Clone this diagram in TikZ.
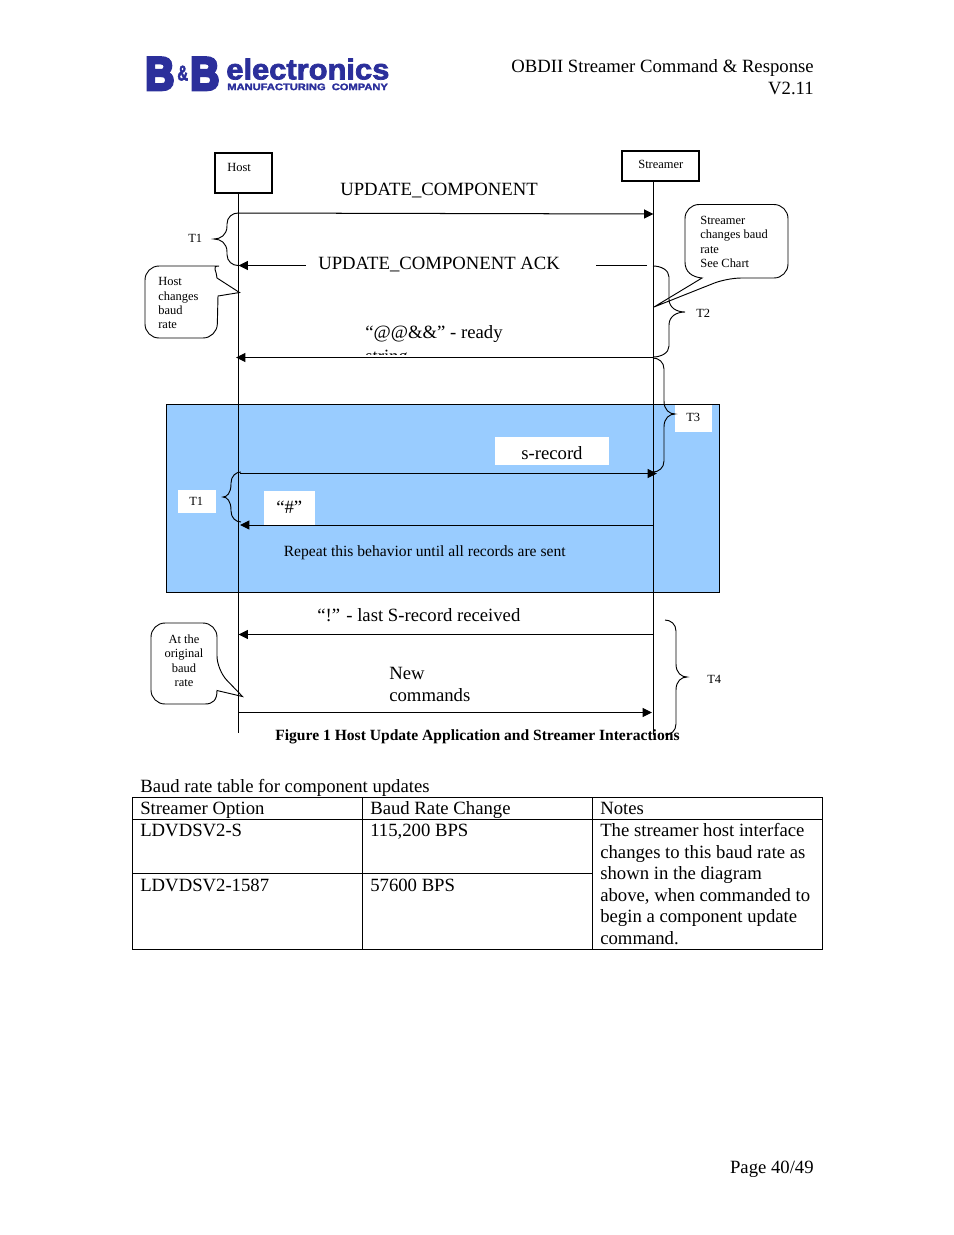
\documentclass[tikz,border=0pt]{standalone}
\usepackage{fontspec}
\setmainfont{Liberation Serif}
\newfontfamily\logofont[BoldFeatures={FakeBold=2.5}]{Liberation Sans}
\newfontfamily\logoblock[BoldFeatures={FakeBold=7}]{Liberation Sans}
\usetikzlibrary{arrows.meta}
\definecolor{loopblue}{HTML}{99CCFF}
\definecolor{logoblue}{HTML}{2B2F9B}
% brace: end x, spine x, tip x, top y, tip y, bottom y
\newcommand{\curlybrace}[6]{%
  \draw[bracelink] (#1,#4) .. controls ({(#1+#2)/2},#4) and (#2,#4+4) .. (#2,#4+11) -- (#2,#5-13)
    .. controls (#2,#5-4) and ({(#2+#3)/2},#5) .. (#3,#5) .. controls ({(#2+#3)/2},#5) and (#2,#5+4) .. (#2,#5+13)
    -- (#2,#6-11) .. controls (#2,#6-4) and ({(#1+#2)/2},#6) .. (#1,#6);}
\tikzset{
  txt/.style={anchor=base west,inner sep=0pt,font=\fontsize{12}{14}\selectfont},
  small/.style={anchor=base west,inner sep=0pt,font=\fontsize{8}{9}\selectfont},
  midtxt/.style={anchor=base west,inner sep=0pt,font=\fontsize{10}{12}\selectfont},
  endtxt/.style={anchor=base east,inner sep=0pt,font=\fontsize{12}{14}\selectfont},
  actor/.style={draw,line width=0.9pt,anchor=north west,inner sep=0pt,outer sep=0pt},
  patch/.style={fill=white,anchor=north west,inner sep=0pt,outer sep=0pt},
  lifeline/.style={line width=0.65pt},
  msg/.style={line width=0.65pt,-{Triangle[length=6pt,width=5.8pt]}},
  bracelink/.style={line width=0.6pt},
  callout/.style={line width=0.6pt,line join=miter},
  grid/.style={line width=0.5pt},
  logotxt/.style={anchor=south west,inner sep=0pt,text=logoblue}
}
\begin{document}
\begin{tikzpicture}[x=0.6415pt,y=-0.6415pt]
\useasboundingbox (0,0) rectangle (954,1235);
% logo and page header
\node[logotxt] (logob1) at (145,90) {\resizebox{18.6pt}{20.5pt}{\logoblock\bfseries B}};
\node[logotxt] (logoamp) at (177,81) {\resizebox{7pt}{9.5pt}{\logofont\bfseries\&}};
\node[logotxt] (logob2) at (190,90) {\resizebox{18.6pt}{20.5pt}{\logoblock\bfseries B}};
\node[logotxt] (logoname) at (226,80) {\resizebox{104.6pt}{13.4pt}{\logofont\bfseries electronics}};
\node[logotxt] (logosub) at (227,90.5) {\resizebox{103pt}{4.2pt}{\logofont\bfseries MANUFACTURING\ \ COMPANY}};
\node[endtxt] (title) at (814,72) {OBDII Streamer Command \& Response};
\node[endtxt] (version) at (814,94) {V2.11};
% repeat area
\node[draw,fill=loopblue,line width=0.7pt,anchor=north west,inner sep=0pt,outer sep=0pt,minimum width=354.8pt,minimum height=120.6pt] (loopbox) at (166.5,404.5) {};
\draw[line width=1.1pt] (loopbox.north east) -- (loopbox.south east);
\node[patch,minimum width=73.1pt,minimum height=18pt] (srecbox) at (495,437) {};
\node[txt] (srec) at (521,459) {s-record};
\node[patch,minimum width=24.4pt,minimum height=14.8pt] (t1box) at (178,490) {};
\node[small] (t1b) at (189,505) {T1};
\node[patch,minimum width=23.7pt,minimum height=17.3pt] (t3box) at (675,405) {};
\node[small] (t3) at (686,421) {T3};
\node[midtxt] (repeat) at (283.5,556) {Repeat this behavior until all records are sent};
% host and streamer
\node[actor,minimum width=36.6pt,minimum height=25.7pt] (host) at (215,153) {};
\node[small] (hostlbl) at (227,171) {Host};
\node[actor,minimum width=49.4pt,minimum height=19.2pt] (streamer) at (622,151) {};
\node[small] (streamerlbl) at (638,168) {Streamer};
\coordinate (hostend) at (238.5,733);
\coordinate (streamend) at (653.5,735);
\coordinate (hosttop) at (238.5,193);
\coordinate (streamtop) at (653.5,181);
\draw[lifeline] (hosttop) -- (hostend);
\draw[lifeline] (streamtop) -- (streamend);
% messages
\coordinate (updh) at (238.5,213);
\coordinate (upds) at (653.5,214);
\coordinate (acks) at (647,265.5);
\coordinate (ackh) at (238.5,265.5);
\coordinate (reads) at (653.5,357.5);
\coordinate (readh) at (236,357.5);
\coordinate (srech) at (240,473.5);
\coordinate (srecs) at (657,473.5);
\coordinate (hashs) at (653.5,525);
\coordinate (hashh) at (240,525);
\coordinate (lasts) at (653.5,634.5);
\coordinate (lasth) at (238.5,634.5);
\coordinate (newh) at (238.5,712.5);
\coordinate (news) at (652,712.5);
\draw[msg] (updh) -- (upds);
\draw[msg] (acks) -- (ackh);
\node[patch,minimum width=186pt,minimum height=12pt] (ackgap) at (306,258) {};
\draw[msg] (reads) -- (readh);
\draw[msg] (srech) -- (srecs);
\draw[msg] (hashs) -- (hashh);
\draw[msg] (lasts) -- (lasth);
\draw[msg] (newh) -- (news);
\node[patch,minimum width=32.7pt,minimum height=21.8pt] (hashbox) at (264,491) {};
\node[txt] (hash) at (276,513) {“\#”};
\node[txt] (upd) at (340,195) {UPDATE\_COMPONENT};
\node[txt] (ack) at (318,269) {UPDATE\_COMPONENT ACK};
\node[txt] (ready) at (365,338.5) {“@@\&\&” - ready};
\begin{scope}
  \clip (360,340) rectangle (415,354);
  \node[txt] (strg) at (365,362) {string};
\end{scope}
\node[txt] (last) at (317,621) {“!” - last S-record received};
\node[txt] (newa) at (389,679) {New};
\node[txt] (newb) at (389,701) {commands};
\node[anchor=base west,inner sep=0pt,font=\fontsize{10}{12}\selectfont\bfseries] (caption) at (275,740) {Figure 1 Host Update Application and Streamer Interactions};
% braces
\curlybrace{238}{227}{214}{213}{239}{265.5}
\node[small] (t1) at (188,242) {T1};
\curlybrace{653}{669}{685}{266}{312}{357}
\node[small] (t2) at (696,317) {T2};
\curlybrace{653}{664}{675}{358}{414}{472}
\curlybrace{241}{231}{223}{472}{497}{522}
\curlybrace{665}{676}{687}{620}{677}{735}
\node[small] (t4) at (707,683) {T4};
% callouts
\coordinate (hosttip) at (239.5,292.5);
\coordinate (streamtip) at (654,307);
\coordinate (origtip) at (242.5,696.5);
\draw[callout] (hosttip) -- (218,296) [rounded corners=9pt] -- (217,338) -- (145,338) -- (145,266) -- (205,266) [sharp corners] .. controls (211,266) and (217,271) .. (217,278) -- cycle;
\node[small] (hosta) at (158,285) {Host};
\node[small] (hostb) at (158,300) {changes};
\node[small] (hostc) at (158,314) {baud};
\node[small] (hostd) at (158,328) {rate};
\draw[callout] (streamtip) -- (702,278) .. controls (692,277) and (685,272) .. (685,262) [rounded corners=9pt] -- (685,204.5) -- (788,204.5) -- (788,278) -- (727,278) [sharp corners] -- cycle;
\node[small] (stra) at (700,224) {Streamer};
\node[small] (strb) at (700,238) {changes baud};
\node[small] (strc) at (700,253) {rate};
\node[small] (strd) at (700,267) {See Chart};
\draw[callout] (origtip) -- (217,690.5) .. controls (217,700) and (213,704) .. (205,704) [rounded corners=9pt] -- (151,704) -- (151,623) -- (217,623) -- (217,670) [sharp corners] -- cycle;
\node[small,anchor=base] (origa) at (184,643) {At the};
\node[small,anchor=base] (origb) at (184,657) {original};
\node[small,anchor=base] (origc) at (184,672) {baud};
\node[small,anchor=base] (origd) at (184,686) {rate};
% baud rate table
\node[txt] (tabletitle) at (140,792) {Baud rate table for component updates};
\draw[grid] (132.5,797.5) rectangle (822.5,949.5);
\draw[grid] (132.5,819.5) -- (822.5,819.5);
\draw[grid] (132.5,873.5) -- (592.5,873.5);
\draw[grid] (362.5,797.5) -- (362.5,949.5);
\draw[grid] (592.5,797.5) -- (592.5,949.5);
\node[txt] (hda) at (140,814) {Streamer Option};
\node[txt] (hdb) at (370,814) {Baud Rate Change};
\node[txt] (hdc) at (600,814) {Notes};
\node[txt] (rowaa) at (140,836) {LDVDSV2-S};
\node[txt] (rowab) at (370,836) {115,200 BPS};
\node[txt] (rowba) at (140,891) {LDVDSV2-1587};
\node[txt] (rowbb) at (370,891) {57600 BPS};
\node[txt] (notea) at (600,836) {The streamer host interface};
\node[txt] (noteb) at (600,858) {changes to this baud rate as};
\node[txt] (notec) at (600,879) {shown in the diagram};
\node[txt] (noted) at (600,901) {above, when commanded to};
\node[txt] (notee) at (600,922) {begin a component update};
\node[txt] (notef) at (600,944) {command.};
\node[endtxt] (pagenum) at (814,1173) {Page 40/49};
\end{tikzpicture}
\end{document}
